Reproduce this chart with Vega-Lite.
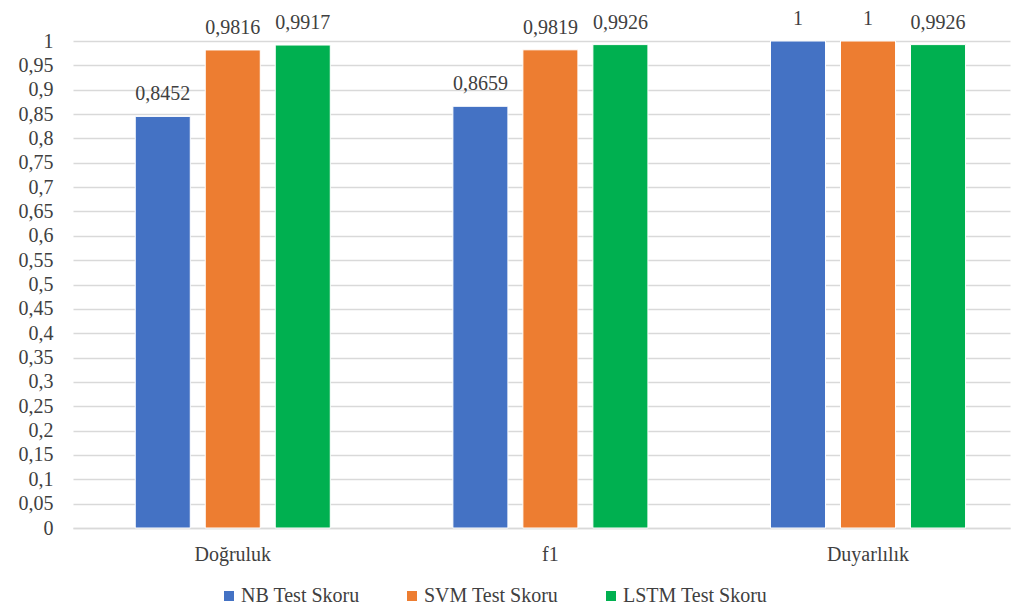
{
  "$schema": "https://vega.github.io/schema/vega-lite/v6.json",
  "autosize": {"type": "none"},
  "padding": {"left": 73, "top": 41, "right": 7, "bottom": 80},
  "width": 937,
  "height": 487,
  "background": "white",
  "config": {
    "locale": {
      "number": {"decimal": ",", "thousands": ".", "grouping": [3], "currency": ["", " €"]}
    },
    "font": "Times New Roman",
    "axis": {"labelFont": "Times New Roman"},
    "legend": {"labelFont": "Times New Roman"},
    "text": {"font": "Times New Roman"},
    "view": {"stroke": null}
  },
  "data": {
    "values": [
      {"metrik": "Doğruluk", "model": "NB Test Skoru", "skor": 0.8452},
      {"metrik": "Doğruluk", "model": "SVM Test Skoru", "skor": 0.9816},
      {"metrik": "Doğruluk", "model": "LSTM Test Skoru", "skor": 0.9917},
      {"metrik": "f1", "model": "NB Test Skoru", "skor": 0.8659},
      {"metrik": "f1", "model": "SVM Test Skoru", "skor": 0.9819},
      {"metrik": "f1", "model": "LSTM Test Skoru", "skor": 0.9926},
      {"metrik": "Duyarlılık", "model": "NB Test Skoru", "skor": 1},
      {"metrik": "Duyarlılık", "model": "SVM Test Skoru", "skor": 1},
      {"metrik": "Duyarlılık", "model": "LSTM Test Skoru", "skor": 0.9926}
    ]
  },
  "encoding": {
    "x": {
      "field": "metrik",
      "type": "nominal",
      "sort": ["Doğruluk", "f1", "Duyarlılık"],
      "scale": {"paddingInner": 0.33, "paddingOuter": 0.14, "align": 0.6},
      "axis": {
        "title": null,
        "labelAngle": 0,
        "labelFontSize": 20,
        "labelColor": "#404040",
        "labelPadding": 16,
        "ticks": false,
        "domainColor": "#d9d9d9",
        "domainWidth": 1.5
      }
    },
    "xOffset": {
      "field": "model",
      "type": "nominal",
      "sort": ["NB Test Skoru", "SVM Test Skoru", "LSTM Test Skoru"],
      "scale": {"paddingInner": 0.214, "paddingOuter": 0.127}
    },
    "y": {
      "field": "skor",
      "type": "quantitative",
      "scale": {"domain": [0, 1], "nice": false},
      "axis": {
        "title": null,
        "values": [0, 0.05, 0.1, 0.15, 0.2, 0.25, 0.3, 0.35, 0.4, 0.45, 0.5, 0.55, 0.6, 0.65, 0.7, 0.75, 0.8, 0.85, 0.9, 0.95, 1],
        "format": "~g",
        "labelFontSize": 20,
        "labelColor": "#404040",
        "labelPadding": 20,
        "ticks": false,
        "domain": false,
        "gridColor": "#d9d9d9",
        "gridWidth": 1.5
      }
    },
    "color": {
      "field": "model",
      "type": "nominal",
      "sort": ["NB Test Skoru", "SVM Test Skoru", "LSTM Test Skoru"],
      "scale": {"range": ["#4472C4", "#ED7D31", "#00B050"]},
      "legend": {
        "title": null,
        "orient": "none",
        "legendX": 146,
        "legendY": 545,
        "direction": "horizontal",
        "symbolType": "square",
        "symbolSize": 100,
        "symbolStrokeWidth": 0,
        "labelFontSize": 20,
        "labelColor": "#404040",
        "labelOffset": 2,
        "columnPadding": 42
      }
    }
  },
  "layer": [
    {
      "mark": {"type": "bar", "stroke": "white", "strokeWidth": 1}
    },
    {
      "mark": {
        "type": "text",
        "baseline": "bottom",
        "dy": -12,
        "fontSize": 20,
        "color": "#404040"
      },
      "encoding": {
        "text": {"field": "skor", "type": "quantitative", "format": ".4~f"},
        "color": {"value": "#404040"}
      }
    }
  ]
}
